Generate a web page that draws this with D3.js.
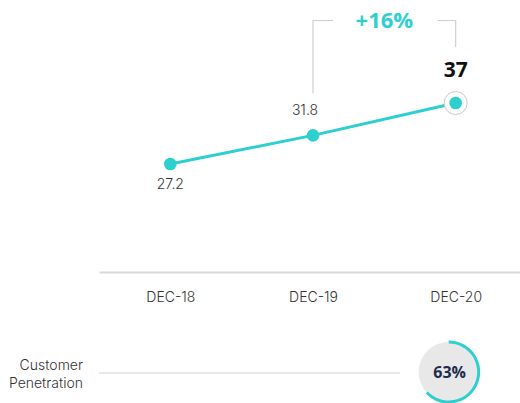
<!DOCTYPE html>
<html lang="en">
<head>
<meta charset="utf-8">
<title>Customers</title>
<script src="https://d3js.org/d3.v7.min.js"></script>
<style>
  body { margin: 0; background: #fff; font-family: Inter, sans-serif; }
  svg { display: block; }
  .light { font-family: Inter, "Open Sans", sans-serif; font-weight: 300; }
  .heavy { font-family: "Open Sans", "Noto Sans", sans-serif; font-weight: 700; }
</style>
</head>
<body>
<div id="chart"></div>
<script>
// data
var periods = ["DEC-18", "DEC-19", "DEC-20"];
var values = [27.2, 31.8, 37];
var valueLabels = ["27.2", "31.8", "37"];
var penetration = [null, null, 63];
var growthLabel = "+16%";
var rowLabel = ["Customer", "Penetration"];

var w = 520, h = 403;
var teal = "#2dcfcf";

var svg = d3.select("#chart").append("svg")
  .attr("width", w).attr("height", h);

var x = d3.scalePoint().domain(periods).range([99, 527]).padding(0.5);
var y = d3.scaleLinear().domain([27.2, 37]).range([164, 103]);

// bottom axis
var axis = svg.append("g")
  .attr("transform", "translate(0,272)")
  .call(d3.axisBottom(x).tickSize(0).tickPadding(20));
axis.select(".domain").attr("stroke", "#d9d9d9").attr("stroke-width", 2);
axis.selectAll("text")
  .attr("class", "light")
  .attr("font-family", null)
  .attr("font-size", "14px")
  .attr("fill", "#333");

// line
var line = d3.line()
  .x(function(d, i) { return x(periods[i]); })
  .y(function(d) { return y(d); });

svg.append("path")
  .datum(values)
  .attr("d", line)
  .attr("fill", "none")
  .attr("stroke", teal)
  .attr("stroke-width", 3);

// ring round the last point
var last = values.length - 1;
svg.append("circle")
  .attr("cx", x(periods[last]))
  .attr("cy", y(values[last]))
  .attr("r", 11.5)
  .attr("fill", "#fff")
  .attr("stroke", "#c8c8c8")
  .attr("stroke-width", 1);

svg.selectAll(".dot")
  .data(values)
  .enter()
  .append("circle")
  .attr("class", "dot")
  .attr("cx", function(d, i) { return x(periods[i]); })
  .attr("cy", function(d) { return y(d); })
  .attr("r", 6.3)
  .attr("fill", teal);

// value labels
svg.selectAll(".vlabel")
  .data(values)
  .enter()
  .append("text")
  .attr("class", function(d, i) { return i == last ? "vlabel heavy" : "vlabel light"; })
  .text(function(d, i) { return valueLabels[i]; })
  .attr("text-anchor", "middle")
  .attr("x", function(d, i) {
    if (i == 1) return x(periods[i]) - 8;
    return x(periods[i]);
  })
  .attr("y", function(d, i) {
    if (i == 0) return y(d) + 25;
    if (i == 1) return y(d) - 20;
    return y(d) - 26;
  })
  .attr("font-size", function(d, i) { return i == last ? "21px" : "14px"; })
  .attr("fill", function(d, i) { return i == last ? "#111" : "#333"; });

// growth bracket
var bx1 = x(periods[1]), bx2 = x(periods[2]), by = 20.5;
svg.append("path")
  .attr("d", "M" + bx1 + "," + (y(values[1]) - 42) + "V" + by + "H" + (bx1 + 20))
  .attr("fill", "none").attr("stroke", "#cfcfcf").attr("stroke-width", 1.2);
svg.append("path")
  .attr("d", "M" + (bx2 - 18) + "," + by + "H" + bx2 + "V" + (y(values[2]) - 56))
  .attr("fill", "none").attr("stroke", "#cfcfcf").attr("stroke-width", 1.2);
svg.append("text")
  .attr("class", "heavy")
  .text(growthLabel)
  .attr("x", (bx1 + bx2) / 2)
  .attr("y", 28)
  .attr("text-anchor", "middle")
  .attr("font-size", "22px")
  .attr("fill", teal);

// customer penetration row
var rowY = 373;
svg.append("text")
  .attr("class", "light")
  .attr("text-anchor", "end")
  .attr("font-size", "14px")
  .attr("fill", "#333")
  .selectAll("tspan")
  .data(rowLabel)
  .enter()
  .append("tspan")
  .attr("x", 83)
  .attr("y", function(d, i) { return 370 + i * 18; })
  .text(function(d) { return d; });

svg.append("line")
  .attr("x1", 99).attr("x2", 400)
  .attr("y1", rowY).attr("y2", rowY)
  .attr("stroke", "#d0d0d0").attr("stroke-width", 1);

var r = 30;
var arc = d3.arc().innerRadius(r - 1.5).outerRadius(r + 1.5).startAngle(0);
var pens = svg.selectAll(".pen")
  .data(penetration.map(function(p, i) { return { p: p, cat: periods[i] }; })
    .filter(function(d) { return d.p != null; }))
  .enter()
  .append("g")
  .attr("class", "pen")
  .attr("transform", function(d) { return "translate(" + (x(d.cat) - 7) + "," + (rowY - 1) + ")"; });

pens.append("circle").attr("r", r).attr("fill", "#e8e8e8");
pens.append("path")
  .attr("d", function(d) { return arc({ endAngle: 2 * Math.PI * d.p / 100 }); })
  .attr("fill", teal);
pens.append("text")
  .attr("class", "heavy")
  .text(function(d) { return d.p + "%"; })
  .attr("text-anchor", "middle")
  .attr("dy", "0.36em")
  .attr("x", 1)
  .attr("font-size", "16px")
  .attr("fill", "#1f2c4c");
</script>
</body>
</html>
